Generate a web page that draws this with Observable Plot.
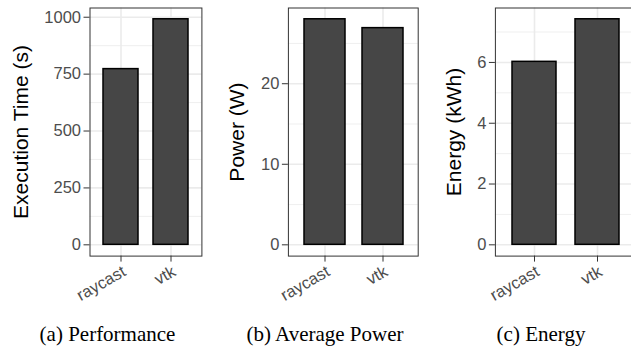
<!DOCTYPE html>
<html>
<head>
<meta charset="utf-8">
<script src="https://cdn.jsdelivr.net/npm/d3@7"></script>
<script src="https://cdn.jsdelivr.net/npm/@observablehq/plot@0.6"></script>
<style>
  html, body { margin: 0; padding: 0; background: #ffffff; overflow: hidden; }
  #root { position: relative; width: 631px; height: 350px; overflow: hidden; background: #fff; }
  .panel { position: absolute; top: 0; }
  .panel svg { max-width: none !important; display: block; }
  .caption { position: absolute; width: 220px; text-align: center; font-family: "Liberation Serif", "Times New Roman", serif; font-size: 21px; line-height: 21px; color: #000; white-space: nowrap; }
</style>
</head>
<body>
<div id="root"></div>
<script>
// ---- data ----
const categories = ["raycast", "vtk"];
const executionTime = [772, 991];      // seconds
const averagePower = [28.0, 26.9];     // W
const energy = [6.02, 7.42];           // kWh

const timeTicks = [0, 250, 500, 750, 1000];
const timeMinor = [125, 375, 625, 875];
const powerTicks = [0, 10, 20];
const powerMinor = [5, 15, 25];
const energyTicks = [0, 2, 4, 6];
const energyMinor = [1, 3, 5, 7];

const yTitles = ["Execution Time (s)", "Power (W)", "Energy (kWh)"];
const captions = ["(a) Performance", "(b) Average Power", "(c) Energy"];

// ---- drawing ----
const root = document.getElementById("root");
const SANS = "'Liberation Sans', Arial, Helvetica, sans-serif";

function panel({values, ticks, minor, title, left, width, marginLeft, marginRight, titleDx}) {
  const data = categories.map((c, i) => ({cat: c, v: values[i]}));
  const max = d3.max(values);
  const H = 300;
  const chart = Plot.plot({
    width, height: H,
    marginLeft, marginRight, marginTop: 7.5, marginBottom: H - 255.6,
    style: {fontFamily: SANS, background: "transparent", overflow: "visible", maxWidth: "none"},
    x: {domain: categories, paddingInner: 0.3, paddingOuter: 0.25},
    y: {domain: [-0.05 * max, 1.05 * max]},
    marks: [
      Plot.ruleY(minor, {stroke: "#EBEBEB", strokeWidth: 0.8}),
      Plot.ruleY(ticks, {stroke: "#EBEBEB", strokeWidth: 1.6}),
      Plot.ruleX(categories, {stroke: "#EBEBEB", strokeWidth: 1.6}),
      Plot.barY(data, {x: "cat", y: "v", fill: "#464646", stroke: "#000", strokeWidth: 1.5}),
      Plot.frame({stroke: "#333333", strokeWidth: 1}),
      Plot.axisY({ticks, tickSize: 6, tickPadding: 3, tickFormat: d => String(d),
        fontSize: 16.5, fill: "#4D4D4D", stroke: "#333333", label: null}),
      Plot.axisX({tickSize: 6, tickFormat: () => "", stroke: "#333333", label: null}),
      Plot.text(categories, {x: d => d, text: d => d, frameAnchor: "bottom", dy: 8.5,
        rotate: -30, textAnchor: "end", lineAnchor: "top", fontSize: 16.5, fill: "#4D4D4D"}),
      Plot.text([title], {text: d => d, frameAnchor: "left", dx: titleDx, rotate: -90,
        textAnchor: "middle", lineAnchor: "middle", fontSize: 21, fill: "#000"})
    ]
  });
  const div = document.createElement("div");
  div.className = "panel";
  div.style.left = left + "px";
  div.style.width = width + "px";
  div.appendChild(chart);
  root.appendChild(div);
}

panel({values: executionTime, ticks: timeTicks, minor: timeMinor, title: yTitles[0],
  left: 0, width: 210, marginLeft: 89.5, marginRight: 8.6, titleDx: -68.5});
panel({values: averagePower, ticks: powerTicks, minor: powerMinor, title: yTitles[1],
  left: 200, width: 225, marginLeft: 87.9, marginRight: 7.3, titleDx: -51.4});
panel({values: energy, ticks: energyTicks, minor: energyMinor, title: yTitles[2],
  left: 420, width: 220, marginLeft: 74.9, marginRight: 4.6, titleDx: -41});

const capCenters = [107.5, 325, 541];
captions.forEach((t, i) => {
  const c = document.createElement("div");
  c.className = "caption";
  c.textContent = t;
  c.style.left = (capCenters[i] - 110) + "px";
  c.style.top = "324.4px";
  root.appendChild(c);
});
</script>
</body>
</html>
